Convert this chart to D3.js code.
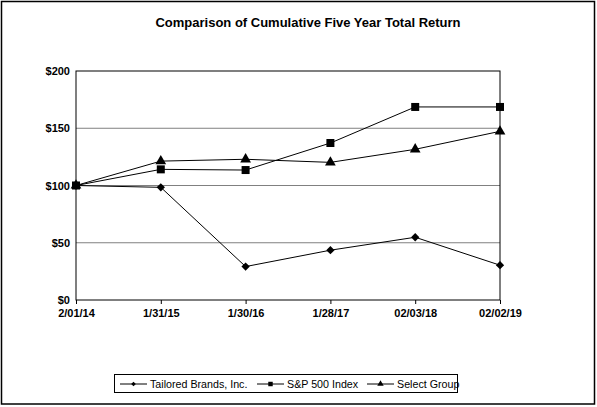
<!DOCTYPE html>
<html>
<head>
<meta charset="utf-8">
<script src="https://cdn.jsdelivr.net/npm/d3@7/dist/d3.min.js"></script>
<style>
body { margin: 0; background: #fff; }
svg { display: block; font-family: Arial, "Liberation Sans", sans-serif; }
</style>
</head>
<body>
<script>
var w = 597;
var h = 407;

var dates = ["2/01/14", "1/31/15", "1/30/16", "1/28/17", "02/03/18", "02/02/19"];
var tailored = [100, 98.4, 29.2, 43.5, 54.8, 30.4];
var sp500 = [100, 114.1, 113.5, 137.1, 168.6, 168.6];
var selectGroup = [100, 121.3, 122.9, 120.2, 131.6, 147.3];
var yTicks = [0, 50, 100, 150, 200];
var seriesNames = ["Tailored Brands, Inc.", "S&P 500 Index", "Select Group"];

var series = [
    {name: seriesNames[0], values: tailored, marker: "diamond"},
    {name: seriesNames[1], values: sp500, marker: "square"},
    {name: seriesNames[2], values: selectGroup, marker: "triangle"}
];

var plotLeft = 76, plotRight = 500, plotTop = 71, plotBottom = 300;

var xScale = d3.scalePoint()
    .domain(dates)
    .range([plotLeft, plotRight]);

var yScale = d3.scaleLinear()
    .domain([0, 200])
    .range([plotBottom, plotTop]);

var svg = d3.select("body")
    .append("svg")
    .attr("width", w)
    .attr("height", h);

// outer frame
svg.append("rect")
    .attr("x", 1.5).attr("y", 1.5)
    .attr("width", 593).attr("height", 402.5)
    .attr("fill", "none")
    .attr("stroke", "#000")
    .attr("stroke-width", 1.5);

svg.append("text")
    .attr("x", 308).attr("y", 27)
    .attr("text-anchor", "middle")
    .attr("font-size", 13)
    .attr("font-weight", "bold")
    .text("Comparison of Cumulative Five Year Total Return");

// gridlines
svg.selectAll("line.grid")
    .data(yTicks.slice(1, -1))
    .enter()
    .append("line")
    .attr("class", "grid")
    .attr("x1", plotLeft).attr("x2", plotRight)
    .attr("y1", function(d) { return yScale(d); })
    .attr("y2", function(d) { return yScale(d); })
    .attr("stroke", "#808080")
    .attr("stroke-width", 1);

// plot box
svg.append("rect")
    .attr("x", plotLeft).attr("y", plotTop)
    .attr("width", plotRight - plotLeft).attr("height", plotBottom - plotTop)
    .attr("fill", "none")
    .attr("stroke", "#000")
    .attr("stroke-width", 1);

var xAxis = d3.axisBottom(xScale).tickSize(4).tickPadding(5);
var gx = svg.append("g")
    .attr("transform", "translate(0," + plotBottom + ")")
    .call(xAxis);
gx.select(".domain").remove();
gx.selectAll("text")
    .attr("font-size", 11)
    .attr("font-weight", "bold")
    .attr("font-family", "Arial, 'Liberation Sans', sans-serif")
    .attr("fill", "#000");

var yAxis = d3.axisLeft(yScale)
    .tickValues(yTicks)
    .tickSize(0)
    .tickPadding(6)
    .tickFormat(function(d) { return "$" + d; });
var gy = svg.append("g")
    .attr("transform", "translate(" + plotLeft + ",0)")
    .call(yAxis);
gy.select(".domain").remove();
gy.selectAll("text")
    .attr("font-size", 11)
    .attr("font-weight", "bold")
    .attr("font-family", "Arial, 'Liberation Sans', sans-serif")
    .attr("fill", "#000");

var symbols = {
    diamond: d3.symbol().type(d3.symbolDiamond2).size(44),
    square: d3.symbol().type(d3.symbolSquare).size(64),
    triangle: d3.symbol().type(d3.symbolTriangle).size(50)
};

var line = d3.line()
    .x(function(d, i) { return xScale(dates[i]); })
    .y(function(d) { return yScale(d); });

series.forEach(function(s) {
    svg.append("path")
        .attr("d", line(s.values))
        .attr("fill", "none")
        .attr("stroke", "#000")
        .attr("stroke-width", 1);
    svg.selectAll("path.m-" + s.marker)
        .data(s.values)
        .enter()
        .append("path")
        .attr("class", "m-" + s.marker)
        .attr("transform", function(d, i) {
            return "translate(" + xScale(dates[i]) + "," + yScale(d) + ")";
        })
        .attr("d", symbols[s.marker])
        .attr("fill", "#000");
});

// legend
var legend = svg.append("g");
legend.append("rect")
    .attr("x", 114.5).attr("y", 374.5)
    .attr("width", 343).attr("height", 18)
    .attr("fill", "#fff")
    .attr("stroke", "#000")
    .attr("stroke-width", 1);

var legendX = [120, 257, 367];
var legendSymbols = {
    diamond: d3.symbol().type(d3.symbolDiamond2).size(14),
    square: d3.symbol().type(d3.symbolSquare).size(20),
    triangle: d3.symbol().type(d3.symbolTriangle).size(18)
};
series.forEach(function(s, i) {
    var g = legend.append("g").attr("transform", "translate(" + legendX[i] + ",384)");
    g.append("line")
        .attr("x1", 0).attr("x2", 27)
        .attr("stroke", "#000").attr("stroke-width", 1);
    g.append("path")
        .attr("transform", "translate(13.5,0)")
        .attr("d", legendSymbols[s.marker])
        .attr("fill", "#000");
    g.append("text")
        .attr("x", 30).attr("y", 4)
        .attr("font-size", 10.7)
        .text(s.name);
});
</script>
</body>
</html>
